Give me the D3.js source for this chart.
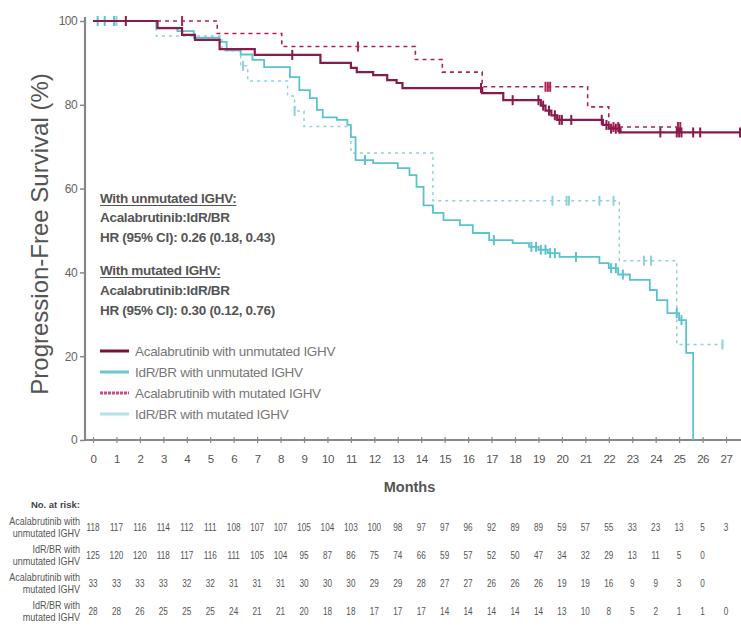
<!DOCTYPE html>
<html><head><meta charset="utf-8">
<script src="https://cdn.jsdelivr.net/npm/d3@7"></script>
<style>body{margin:0;background:#fff}svg{display:block;font-family:"Liberation Sans",Arial,sans-serif}</style>
</head><body><svg id="c" width="741" height="644"></svg>
<script>
// ---------- data ----------
const months = d3.range(0, 28);
const yTicks = [0, 20, 40, 60, 80, 100];
const seriesNames = ["Acalabrutinib with unmutated IGHV", "IdR/BR with unmutated IGHV", "Acalabrutinib with mutated IGHV", "IdR/BR with mutated IGHV"];
const riskLabels = [["Acalabrutinib with", "unmutated IGHV"], ["IdR/BR with", "unmutated IGHV"], ["Acalabrutinib with", "mutated IGHV"], ["IdR/BR with", "mutated IGHV"]];

// Acalabrutinib, unmutated IGHV
const auTimes = [0, 2.75, 3.8, 4.35, 5.4, 6.9, 9.7, 11.0, 11.25, 11.95, 12.55, 12.95, 13.2, 16.6, 17.5, 19.1, 19.3, 19.55, 19.8, 21.75, 22.0, 22.5, 27.6];
const auSurv = [100, 98.3, 96.7, 95.5, 93.3, 91.9, 90.0, 88.8, 87.8, 87.1, 85.9, 85.2, 84.0, 82.8, 81.1, 79.8, 78.6, 77.5, 76.4, 75.2, 74.3, 73.4, 73.4];
const auCens = [1.4, 8.5, 16.55, 17.9, 19.0, 19.2, 19.45, 19.7, 19.9, 20.0, 20.4, 21.7, 21.9, 22.1, 22.3, 22.45, 24.2, 24.9, 25.0, 25.1, 25.6, 25.9, 27.6];
// IdR/BR, unmutated IGHV
const iuTimes = [0, 2.7, 3.6, 4.3, 5.4, 5.7, 6.3, 6.8, 7.3, 8.4, 8.8, 9.25, 9.55, 9.8, 10.4, 10.85, 11.0, 11.2, 11.95, 13.0, 13.5, 13.8, 14.1, 14.5, 14.95, 15.65, 16.2, 16.9, 17.9, 18.6, 19.0, 19.4, 19.9, 21.6, 22.0, 22.4, 22.9, 23.75, 24.05, 24.5, 25.0, 25.3, 25.6];
const iuSurv = [100, 98.4, 97.6, 96.0, 95.0, 93.0, 92.0, 90.7, 89.0, 86.6, 83.5, 81.6, 78.8, 77.0, 76.4, 75.2, 72.3, 66.8, 66.1, 64.9, 63.2, 60.4, 56.0, 54.2, 52.5, 51.3, 49.4, 47.7, 47.0, 46.1, 45.4, 44.6, 43.7, 42.2, 41.0, 39.5, 38.2, 35.8, 33.4, 30.3, 28.6, 20.8, 0];
const iuCens = [0.2, 0.5, 0.9, 11.6, 17.1, 18.7, 18.9, 19.1, 19.3, 19.5, 19.7, 20.6, 22.1, 22.3, 22.6, 24.9, 25.1];
// Acalabrutinib, mutated IGHV
const amTimes = [0, 5.3, 8.05, 13.75, 14.9, 16.6, 21.1, 22.0, 25.1];
const amSurv = [100, 97.0, 93.9, 90.8, 87.8, 84.3, 79.5, 74.7, 74.7];
const amCens = [3.8, 11.3, 19.3, 19.4, 19.5, 22.2, 22.4, 24.95, 25.05];
// IdR/BR, mutated IGHV
const imTimes = [0, 2.7, 5.5, 6.3, 6.6, 8.3, 8.6, 9.0, 11.0, 14.5, 22.45, 24.9, 26.9];
const imSurv = [100, 96.4, 92.9, 89.3, 85.7, 82.1, 78.5, 74.8, 68.5, 57.1, 42.8, 22.8, 22.8];
const imCens = [1.0, 6.4, 8.6, 19.6, 20.2, 20.3, 21.6, 22.2, 23.5, 23.8, 26.85];

// numbers at risk
const riskAU = [118, 117, 116, 114, 112, 111, 108, 107, 107, 105, 104, 103, 100, 98, 97, 97, 96, 92, 89, 89, 59, 57, 55, 33, 23, 13, 5, 3];
const riskIU = [125, 120, 120, 118, 117, 116, 111, 105, 104, 95, 87, 86, 75, 74, 66, 59, 57, 52, 50, 47, 34, 32, 29, 13, 11, 5, 0];
const riskAM = [33, 33, 33, 33, 32, 32, 31, 31, 31, 30, 30, 30, 29, 29, 28, 27, 27, 26, 26, 26, 19, 19, 16, 9, 9, 3, 0];
const riskIM = [28, 28, 26, 25, 25, 25, 24, 21, 21, 20, 18, 18, 17, 17, 17, 14, 14, 14, 14, 14, 13, 10, 8, 5, 2, 1, 1, 0];

const hrLines = ["With unmutated IGHV:", "Acalabrutinib:IdR/BR", "HR (95% CI): 0.26 (0.18, 0.43)", "With mutated IGHV:", "Acalabrutinib:IdR/BR", "HR (95% CI): 0.30 (0.12, 0.76)"];

// ---------- drawing ----------
const svg = d3.select("#c");
const x = d3.scaleLinear().domain([0, 27]).range([93, 726]);
const y = d3.scaleLinear().domain([0, 100]).range([440, 21]);

const series = [
  {t: auTimes, s: auSurv, c: auCens, color: "#8a1a4c", w: 2.2, dash: null, name: seriesNames[0]},
  {t: iuTimes, s: iuSurv, c: iuCens, color: "#5bc2ce", w: 1.8, dash: null, name: seriesNames[1]},
  {t: amTimes, s: amSurv, c: amCens, color: "#b3214f", w: 1.6, dash: "4,4", name: seriesNames[2]},
  {t: imTimes, s: imSurv, c: imCens, color: "#8fd2d9", w: 1.5, dash: "3,4", name: seriesNames[3]}
];

// axes
const yAxis = d3.axisLeft(y).tickValues(yTicks).tickSize(5).tickPadding(3);
const gy = svg.append("g").attr("transform", "translate(85,0)").call(yAxis);
gy.select(".domain").remove();
gy.selectAll(".tick line").attr("stroke", "#888").attr("stroke-width", 1.5);
gy.selectAll(".tick text").attr("fill", "#666").style("font-size", "12px").style("letter-spacing", "-0.6px");
svg.append("line").attr("x1", 85).attr("x2", 85).attr("y1", 17).attr("y2", 441).attr("stroke", "#888").attr("stroke-width", 2.2);

const xAxis = d3.axisBottom(x).tickValues(months).tickFormat(d3.format("d")).tickSize(6).tickPadding(12);
const gx = svg.append("g").attr("transform", "translate(0,437)").call(xAxis);
gx.select(".domain").remove();
gx.selectAll(".tick line").attr("stroke", "#888").attr("stroke-width", 1.2);
gx.selectAll(".tick text").attr("fill", "#555").style("font-size", "11.5px").style("letter-spacing", "-0.5px");
svg.append("line").attr("x1", 84).attr("x2", 741).attr("y1", 440).attr("y2", 440).attr("stroke", "#888").attr("stroke-width", 2.2);

svg.append("text").attr("x", x(13.5)).attr("y", 492).attr("text-anchor", "middle")
  .attr("fill", "#555").style("font-size", "14.5px").style("font-weight", "bold").text("Months");

svg.append("text").attr("transform", "translate(48,234) rotate(-90)").attr("text-anchor", "middle")
  .attr("fill", "#555").style("font-size", "24px").text("Progression-Free Survival (%)");

// curves
const line = d3.line().x(d => x(d[0])).y(d => y(d[1])).curve(d3.curveStepAfter);
function survAt(sr, t) {
  let v = sr.s[0];
  for (let i = 0; i < sr.t.length; i++) if (sr.t[i] <= t) v = sr.s[i];
  return v;
}
[3, 1, 2, 0].forEach(i => {
  const sr = series[i];
  const pts = sr.t.map((t, j) => [t, sr.s[j]]);
  svg.append("path").attr("d", line(pts)).attr("fill", "none").attr("stroke", sr.color)
    .attr("stroke-width", sr.w).attr("stroke-dasharray", sr.dash);
  svg.append("g").selectAll("line").data(sr.c).join("line")
    .attr("x1", d => x(d)).attr("x2", d => x(d))
    .attr("y1", d => y(survAt(sr, d)) - 5).attr("y2", d => y(survAt(sr, d)) + 5)
    .attr("stroke", sr.color).attr("stroke-width", 2);
});

// HR annotation
const hrY = [203, 222, 242, 275, 295, 315];
hrLines.forEach((t, i) => {
  const tx = svg.append("text").attr("x", 100).attr("y", hrY[i]).attr("fill", "#555")
    .style("font-size", "13.5px").style("font-weight", "bold").style("letter-spacing", "-0.3px").text(t);
  if (i === 0 || i === 3) {
    const w = tx.node().getComputedTextLength();
    svg.append("line").attr("x1", 100).attr("x2", 100 + w).attr("y1", hrY[i] + 2.5).attr("y2", hrY[i] + 2.5).attr("stroke", "#555").attr("stroke-width", 1);
  }
});

// legend
const legY = [351, 372, 393, 414];
const legColors = ["#7a1038", "#6cc6d2", "#c0508a", "#b4e3e6"];
series.forEach((sr, i) => {
  svg.append("line").attr("x1", 100).attr("x2", 129).attr("y1", legY[i]).attr("y2", legY[i])
    .attr("stroke", legColors[i]).attr("stroke-width", 3).attr("stroke-dasharray", i === 2 ? "3,1" : null);
  svg.append("text").attr("x", 135).attr("y", legY[i] + 5).attr("fill", "#777")
    .style("font-size", "13.5px").style("letter-spacing", "-0.3px").text(sr.name);
});

// risk table
svg.append("text").attr("x", 80).attr("y", 508).attr("text-anchor", "end").attr("fill", "#444")
  .style("font-size", "9.5px").style("font-weight", "bold").text("No. at risk:");
const riskRows = [riskAU, riskIU, riskAM, riskIM];
const rowY = [527, 555, 583, 611];
riskRows.forEach((row, i) => {
  svg.append("g").selectAll("text").data(row).join("text")
    .attr("transform", (d, j) => `translate(${x(months[j])},${rowY[i] + 4}) scale(0.78,1)`)
    .attr("text-anchor", "middle")
    .attr("fill", "#555").style("font-size", "10.5px").text(d => d);
  riskLabels[i].forEach((l, k) => {
    svg.append("text").attr("transform", `translate(80,${rowY[i] - 2 + k * 12}) scale(0.86,1)`)
      .attr("text-anchor", "end")
      .attr("fill", "#555").style("font-size", "10.5px").text(l);
  });
});
</script></body></html>
